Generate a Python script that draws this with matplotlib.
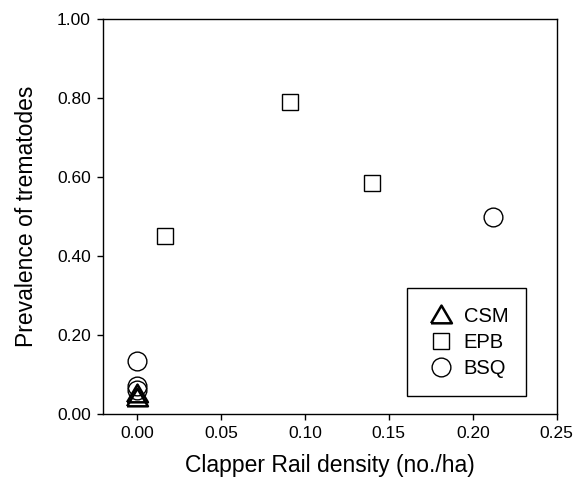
import matplotlib
matplotlib.use("Agg")
import matplotlib.pyplot as plt

plt.rcParams['font.family'] = ['Liberation Sans', 'DejaVu Sans']

# data
csm_x = [0.0, 0.0]
csm_y = [0.05, 0.04]
epb_x = [0.017, 0.091, 0.140]
epb_y = [0.45, 0.79, 0.585]
bsq_x = [0.0, 0.0, 0.0, 0.212]
bsq_y = [0.135, 0.07, 0.062, 0.50]

x_ticks = [0.00, 0.05, 0.10, 0.15, 0.20, 0.25]
y_ticks = [0.00, 0.20, 0.40, 0.60, 0.80, 1.00]

# wide, flat triangle like the original symbol
tri = [(-1.0, -0.75), (1.0, -0.75), (0.0, 0.95), (-1.0, -0.75)]

fig = plt.figure(figsize=(5.79, 4.8), dpi=100)
ax = fig.add_axes([0.1785, 0.1375, 0.783, 0.8229])

ax.plot(csm_x, csm_y, linestyle='none', marker=tri, markersize=15,
        markerfacecolor='none', markeredgecolor='black', markeredgewidth=1.8, label='CSM')
ax.plot(epb_x, epb_y, linestyle='none', marker='s', markersize=11.3,
        markerfacecolor='none', markeredgecolor='black', markeredgewidth=1.0, label='EPB')
ax.plot(bsq_x, bsq_y, linestyle='none', marker='o', markersize=13.5,
        markerfacecolor='none', markeredgecolor='black', markeredgewidth=1.0, label='BSQ')

ax.set_xlim(-0.02, 0.25)
ax.set_ylim(0, 1.0)
ax.set_xticks(x_ticks)
ax.set_yticks(y_ticks)
ax.set_xticklabels([f'{v:.2f}' for v in x_ticks])
ax.set_yticklabels([f'{v:.2f}' for v in y_ticks])
ax.tick_params(direction='out', length=4, width=1, labelsize=12.5, colors='black', pad=5)
for s in ax.spines.values():
    s.set_linewidth(1.0)
    s.set_color('black')

ax.set_xlabel('Clapper Rail density (no./ha)', fontsize=16.5, labelpad=9)
ax.set_ylabel('Prevalence of trematodes', fontsize=16.5, labelpad=14)

leg = ax.legend(loc='lower right', bbox_to_anchor=(0.933, 0.046), fontsize=14.5,
                frameon=True, fancybox=False, edgecolor='black', framealpha=1,
                borderpad=0.9, labelspacing=0.35, handletextpad=0.3,
                handlelength=1.6, borderaxespad=0)
leg.get_frame().set_linewidth(1.0)

fig.savefig('out.png', dpi=100)
